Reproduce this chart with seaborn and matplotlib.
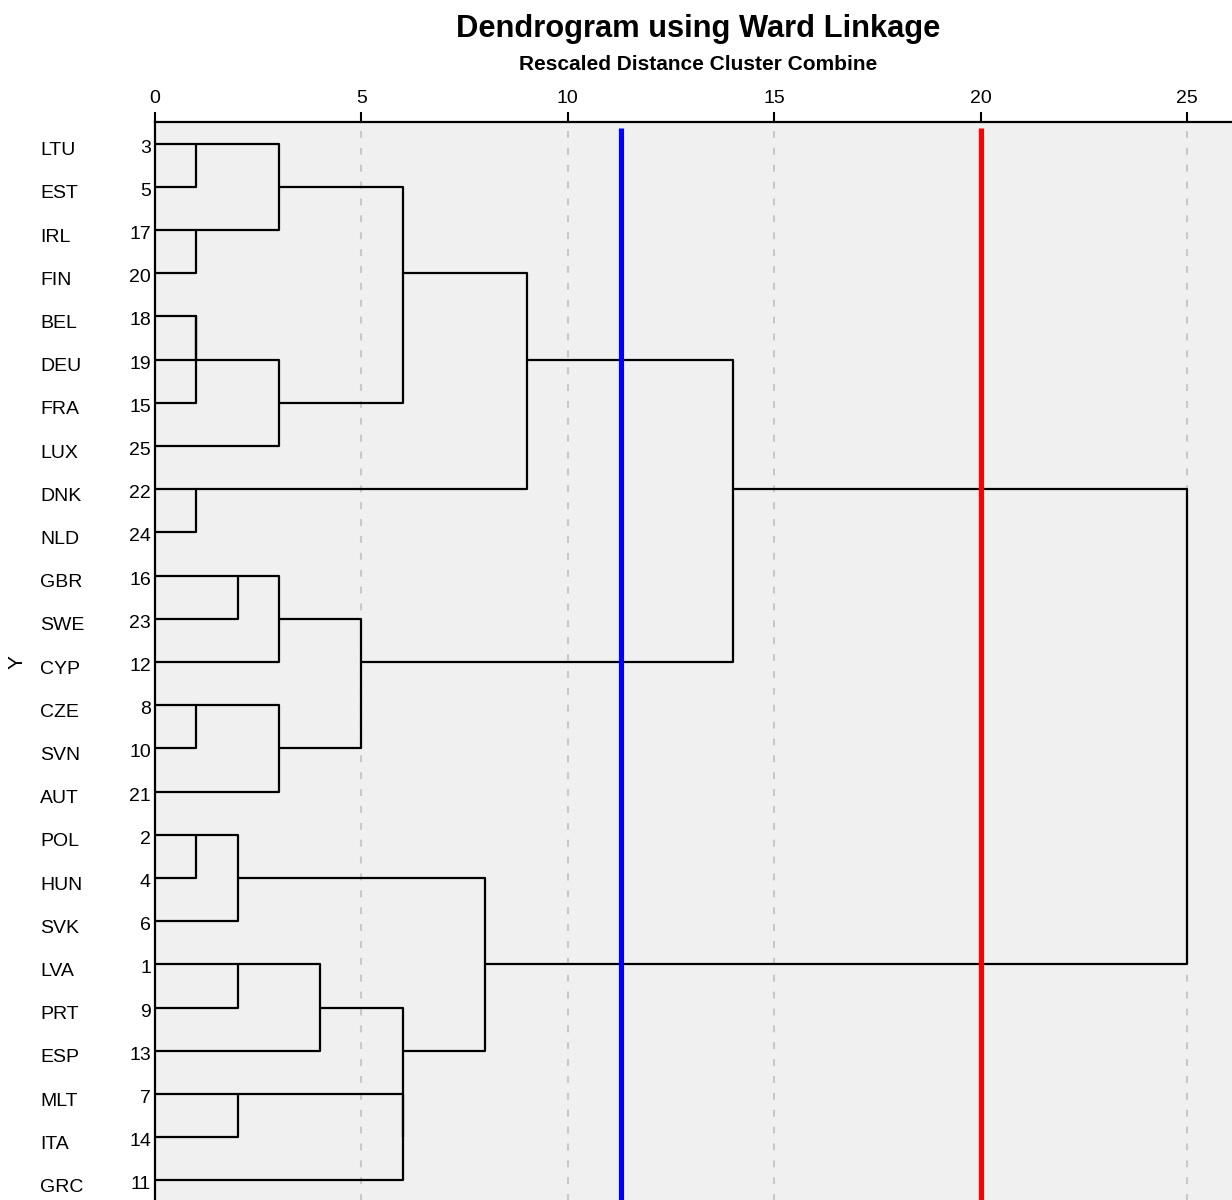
import math
import numpy as np
import pandas as pd
import matplotlib
matplotlib.use("Agg")
import matplotlib.pyplot as plt
import matplotlib.transforms as mtransforms
import seaborn as sns

# Leaves in display order (top to bottom): country code and case number
countries = ["LTU", "EST", "IRL", "FIN", "BEL", "DEU", "FRA", "LUX", "DNK", "NLD",
             "GBR", "SWE", "CYP", "CZE", "SVN", "AUT", "POL", "HUN", "SVK", "LVA",
             "PRT", "ESP", "MLT", "ITA", "GRC"]
case_numbers = [3, 5, 17, 20, 18, 19, 15, 25, 22, 24,
                16, 23, 12, 8, 10, 21, 2, 4, 6, 1,
                9, 13, 7, 14, 11]

# Agglomeration schedule: node ids 0..24 are leaves, each merge creates node 25, 26, ...
merge_left = [0, 2, 25, 4, 28, 29, 27, 8, 31, 10, 34, 13, 36, 35, 33,
              16, 40, 19, 42, 22, 44, 43, 41, 39]
merge_right = [1, 3, 26, 5, 6, 7, 30, 9, 32, 11, 12, 14, 15, 37, 38,
               17, 18, 20, 21, 23, 24, 45, 46, 47]
merge_height = [1, 1, 3, 1, 1, 3, 6, 1, 9, 2, 3, 1, 3, 5, 14,
                1, 2, 2, 4, 2, 6, 6, 8, 25]

# Cut lines on the rescaled distance axis
cut_positions = [11.3, 20]
cut_colors = ["#0000ff", "#ff0000"]

tick_values = [0, 5, 10, 15, 20, 25]

# ---- dendrogram geometry ----
n_leaves = len(countries)
node_row = list(range(n_leaves))
node_height = [0.0] * n_leaves
rows = []
for k, (a, b, h) in enumerate(zip(merge_left, merge_right, merge_height)):
    ra, rb = node_row[a], node_row[b]
    ha, hb = node_height[a], node_height[b]
    for x, y in [(ha, ra), (h, ra), (h, rb), (hb, rb)]:
        rows.append({"link": k, "x": x, "y": y})
    node_row.append(math.floor((ra + rb) / 2))
    node_height.append(h)
links = pd.DataFrame(rows)

# ---- figure ----
sns.set_style("white")
plt.rcParams["font.family"] = ["Liberation Sans", "DejaVu Sans"]
for key in ["text.color", "axes.labelcolor", "xtick.color", "ytick.color"]:
    plt.rcParams[key] = "black"

W, H = 1232, 1200
fig = plt.figure(figsize=(W / 100, H / 100), dpi=100)
ax_left, ax_top, ax_bottom = 155, 122, 1202
ax = fig.add_axes([ax_left / W, 1 - ax_bottom / H, (W - ax_left) / W, (ax_bottom - ax_top) / H])
ax.set_facecolor("#f0f0f0")

x_max = (W - ax_left) / 41.28
ax.set_xlim(0, x_max)
ax.set_ylim(24.5, -0.5)

# dashed guide lines at major ticks
for t in tick_values[1:]:
    ax.axvline(t, color="#c8c8c8", linewidth=1.5, linestyle=(0, (3.3, 4.8)), zorder=1)

sns.lineplot(data=links, x="x", y="y", units="link", estimator=None, sort=False,
             color="black", linewidth=1.6, ax=ax, legend=False, zorder=3)

for xc, col in zip(cut_positions, cut_colors):
    ax.vlines(xc, -0.37, 24.5, colors=col, linewidth=3.7, zorder=4)

# axis styling
for side in ["right", "bottom"]:
    ax.spines[side].set_visible(False)
for side in ["top", "left"]:
    ax.spines[side].set_visible(True)
    ax.spines[side].set_color("black")
    ax.spines[side].set_linewidth(1.6)
    ax.spines[side].set_zorder(5)

ax.xaxis.tick_top()
ax.set_xticks(tick_values)
ax.set_xticklabels([str(t) for t in tick_values])
ax.tick_params(axis="x", which="both", top=True, bottom=False, direction="out",
               length=7, width=1.5, color="black", labelsize=14, pad=4)
ax.set_xlabel("")

# case numbers and country codes per leaf
ax.set_yticks([])
ax.set_ylabel("Y", fontsize=15, rotation=90)
ax.yaxis.set_label_coords((27 - ax_left) / (W - ax_left), 0.5)

trans = mtransforms.blended_transform_factory(fig.transFigure, ax.transData)
for i, (c, n) in enumerate(zip(countries, case_numbers)):
    ax.text(40 / W, i + 0.27, c, transform=trans, ha="left", va="baseline", fontsize=14)
    ax.text(151 / W, i + 0.21, str(n), transform=trans, ha="right", va="baseline", fontsize=14)

fig.text(698 / W, 1 - 29 / H, "Dendrogram using Ward Linkage", ha="center", va="center",
         fontsize=22.2, fontweight="bold")
fig.text(698 / W, 1 - 64 / H, "Rescaled Distance Cluster Combine", ha="center", va="center",
         fontsize=15, fontweight="bold")

fig.savefig("out.png", dpi=100, facecolor="white")
